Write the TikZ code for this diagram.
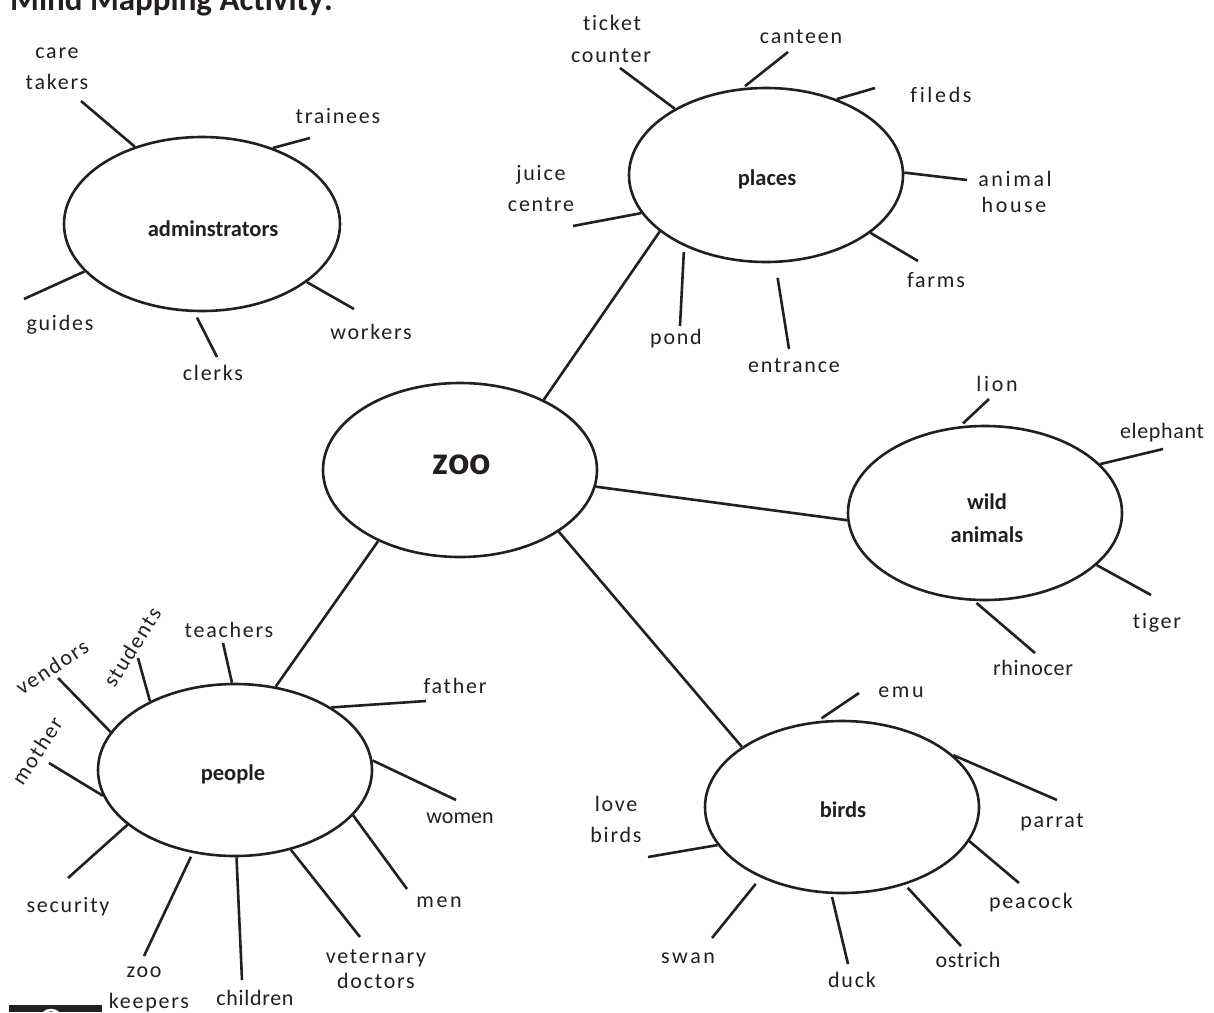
\documentclass[tikz,border=0pt]{standalone}
\usepackage{fontspec}
\setmainfont{Carlito}[Ligatures=NoCommon]
\newfontfamily\lblfont[LetterSpace=8,Ligatures=NoCommon]{Carlito}
\newfontfamily\widefont[LetterSpace=12,Ligatures=NoCommon]{Carlito}
\newfontfamily\tightfont[LetterSpace=3,Ligatures=NoCommon]{Carlito}
\newfontfamily\zerofont[Ligatures=NoCommon]{Carlito}
\usetikzlibrary{shapes.geometric}
\definecolor{ink}{RGB}{35,31,32}
\begin{document}
\begin{tikzpicture}[x=1pt,y=-1pt,
  hub/.style={draw=ink, ellipse, line width=2.6pt, inner sep=0pt, minimum width=274pt, minimum height=174pt},
  lbl/.style={font=\lblfont\fontsize{22}{26}\selectfont, text=ink, inner sep=0pt, anchor=base},
  wlbl/.style={lbl, font=\widefont\fontsize{22}{26}\selectfont},
  tlbl/.style={lbl, font=\tightfont\fontsize{22}{26}\selectfont},
  zlbl/.style={lbl, font=\zerofont\fontsize{22}{26}\selectfont},
  htxt/.style={font=\bfseries\fontsize{22.5}{28}\selectfont, text=ink, inner sep=0pt, anchor=base},
  spoke/.style={draw=ink, line width=2.6pt},
  link/.style={draw=ink, line width=2.6pt}]
\fill[white] (0,0) rectangle (1214,1012);
\useasboundingbox (0,0) rectangle (1214,1012);

% title
\node[font=\bfseries\fontsize{33}{40}\selectfont, text=ink, inner sep=0pt, anchor=base west] (title) at (10,10) {Mind Mapping Activity:};

% logo fragment
\begin{scope}
\clip (9,1005) rectangle (102,1012);
\fill[ink] (9,1005) rectangle (102,1012);
\draw[white, line width=2.5pt] (51,1021) circle (11pt);
\end{scope}

% ---------- hubs ----------
\node[hub, minimum width=276pt] (adm) at (202,224) {};
\node[htxt] (admT) at (213,236) {adminstrators};
\node[hub] (pla) at (766,175) {};
\node[htxt] (plaT) at (767,185) {places};
\node[hub] (zoo) at (460,470) {};
\node[htxt, font=\bfseries\fontsize{40}{44}\selectfont] (zooT) at (462,474) {zoo};
\node[hub] (wld) at (985,513) {};
\node[htxt] (wldT1) at (987,509) {wild};
\node[htxt] (wldT2) at (987,542) {animals};
\node[hub, minimum height=172pt] (ppl) at (235,770) {};
\node[htxt] (pplT) at (233,780) {people};
\node[hub, minimum height=172pt] (brd) at (842,807) {};
\node[htxt] (brdT) at (843,817) {birds};

% ---------- links ----------
\draw[link] (zoo.40) -- (pla.208);
\draw[link] (zoo.353) -- (wld.183);
\draw[link] (zoo.221) -- (ppl.64);
\draw[link] (zoo.328) -- (brd.149);

% ---------- adminstrators ----------
\node[lbl] (care1) at (57,58) {care};
\node[lbl] (care2) at (57,89) {takers};
\coordinate (e-care) at (81,101);
\draw[spoke] (adm.131) -- (e-care);
\node[lbl] (trainees) at (338,123) {trainees};
\coordinate (e-trainees) at (310,138);
\draw[spoke] (adm.47) -- (e-trainees);
\node[lbl] (guides) at (60,330) {guides};
\coordinate (e-guides) at (24,299);
\draw[spoke] (adm.202) -- (e-guides);
\node[lbl] (clerks) at (213,380) {clerks};
\coordinate (e-clerks) at (217,357);
\draw[spoke, shorten <=6pt] (adm.265) -- (e-clerks);
\node[lbl] (workers) at (371,339) {workers};
\coordinate (e-workers) at (354,309);
\draw[spoke] (adm.331) -- (e-workers);

% ---------- places ----------
\node[lbl] (ticket1) at (612,30) {ticket};
\node[lbl] (ticket2) at (611,62) {counter};
\coordinate (e-ticket) at (620,68);
\draw[spoke] (pla.144) -- (e-ticket);
\node[lbl] (canteen) at (801,43) {canteen};
\coordinate (e-canteen) at (788,52);
\draw[spoke, shorten <=3pt] (pla.105) -- (e-canteen);
\node[wlbl] (fileds) at (941,102) {fileds};
\coordinate (e-fileds) at (875,88);
\draw[spoke] (pla.47) -- (e-fileds);
\node[wlbl] (animal1) at (1015,186) {animal};
\node[wlbl] (animal2) at (1014,212) {house};
\coordinate (e-animal) at (967,180);
\draw[spoke] (pla.1) -- (e-animal);
\node[lbl] (juice1) at (541,180) {juice};
\node[lbl] (juice2) at (541,211) {centre};
\coordinate (e-juice) at (573,226);
\draw[spoke] (pla.197) -- (e-juice);
\node[lbl] (pond) at (676,344) {pond};
\coordinate (e-pond) at (680,326);
\draw[spoke, shorten <=6pt] (pla.221) -- (e-pond);
\node[lbl] (entrance) at (794,372) {entrance};
\coordinate (e-entrance) at (789,349);
\draw[spoke, shorten <=15pt] (pla.276) -- (e-entrance);
\node[lbl] (farms) at (936,287) {farms};
\coordinate (e-farms) at (918,261);
\draw[spoke] (pla.331) -- (e-farms);

% ---------- wild animals ----------
\node[wlbl] (lion) at (997,391) {lion};
\coordinate (e-lion) at (989,399);
\draw[spoke, shorten <=4pt] (wld.106) -- (e-lion);
\node[tlbl] (elephant) at (1162,438) {elephant};
\coordinate (e-elephant) at (1163,449);
\draw[spoke] (wld.23) -- (e-elephant);
\node[lbl] (tiger) at (1157,628) {tiger};
\coordinate (e-tiger) at (1151,595);
\draw[spoke] (wld.335) -- (e-tiger);
\node[tlbl] (rhino) at (1033,675) {rhinocer};
\coordinate (e-rhino) at (1035,653);
\draw[spoke, shorten <=3pt] (wld.263) -- (e-rhino);

% ---------- people ----------
\node[lbl] (teachers) at (229,637) {teachers};
\coordinate (e-teachers) at (223,643);
\draw[spoke] (ppl.92) -- (e-teachers);
\node[lbl, anchor=center, rotate=58] (students) at (132,647) {students};
\coordinate (e-students) at (138,658);
\draw[spoke] (ppl.141) -- (e-students);
\node[lbl, anchor=center, rotate=33] (vendors) at (52,667) {vendors};
\coordinate (e-vendors) at (58,678);
\draw[spoke] (ppl.163) -- (e-vendors);
\node[lbl, anchor=center, rotate=57] (mother) at (37,751) {mother};
\coordinate (e-mother) at (49,763);
\draw[spoke] (ppl.191) -- (e-mother);
\node[lbl] (security) at (68,912) {security};
\coordinate (e-security) at (68,878);
\draw[spoke] (ppl.207) -- (e-security);
\node[lbl] (zk1) at (144,977) {zoo};
\node[lbl] (zk2) at (149,1008) {keepers};
\coordinate (e-zk) at (144,956);
\draw[spoke, shorten <=4pt] (ppl.243) -- (e-zk);
\node[tlbl] (children) at (255,1005) {children};
\coordinate (e-children) at (242,980);
\draw[spoke] (ppl.271) -- (e-children);
\node[lbl] (vet1) at (376,963) {veternary};
\node[lbl] (vet2) at (376,988) {doctors};
\coordinate (e-vet) at (360,937);
\draw[spoke] (ppl.305) -- (e-vet);
\node[wlbl] (men) at (439,907) {men};
\coordinate (e-men) at (407,889);
\draw[spoke] (ppl.339) -- (e-men);
\node[zlbl] (women) at (460,823) {women};
\coordinate (e-women) at (456,800);
\draw[spoke] (ppl.4) -- (e-women);
\node[lbl] (father) at (455,693) {father};
\coordinate (e-father) at (426,701);
\draw[spoke] (ppl.33) -- (e-father);

% ---------- birds ----------
\node[wlbl] (emu) at (901,697) {emu};
\coordinate (e-emu) at (859,693);
\draw[spoke, shorten <=5pt] (brd.106) -- (e-emu);
\node[lbl] (parrat) at (1052,827) {parrat};
\coordinate (e-parrat) at (1057,800);
\draw[spoke] (brd.25) -- (e-parrat);
\node[lbl] (peacock) at (1031,908) {peacock};
\coordinate (e-peacock) at (1019,883);
\draw[spoke] (brd.345) -- (e-peacock);
\node[tlbl] (ostrich) at (968,967) {ostrich};
\coordinate (e-ostrich) at (961,946);
\draw[spoke, shorten <=4pt] (brd.309) -- (e-ostrich);
\node[lbl] (duck) at (852,987) {duck};
\coordinate (e-duck) at (848,964);
\draw[spoke, shorten <=3pt] (brd.263) -- (e-duck);
\node[wlbl] (swan) at (688,963) {swan};
\coordinate (e-swan) at (712,938);
\draw[spoke, shorten <=8pt] (brd.221) -- (e-swan);
\node[lbl] (love1) at (616,811) {love};
\node[lbl] (love2) at (616,842) {birds};
\coordinate (e-love) at (648,857);
\draw[spoke] (brd.197) -- (e-love);
\end{tikzpicture}
\end{document}
